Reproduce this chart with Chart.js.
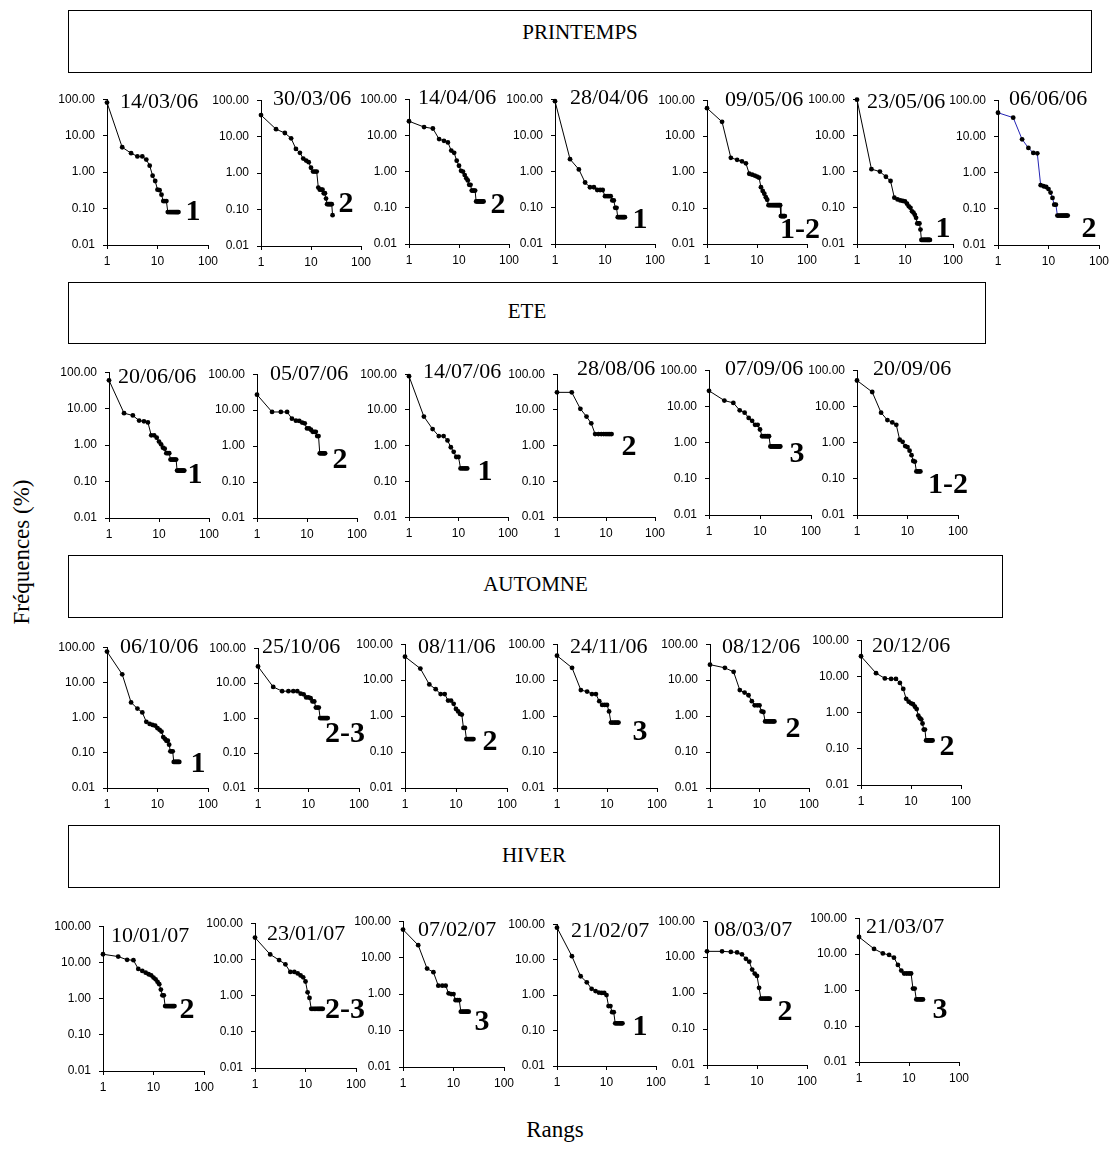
<!DOCTYPE html>
<html>
<head>
<meta charset="utf-8">
<script src="https://cdn.jsdelivr.net/npm/chart.js@4"></script>
<style>
body { margin: 0; background: #fff; }
#page { position: relative; width: 1112px; height: 1151px; font-family: "Liberation Serif", "Times New Roman", serif; color: #000; overflow: hidden; }
.boite { position: absolute; border: 1px solid #000; box-sizing: border-box; }
.saison { position: absolute; font-size: 21px; transform: translate(-50%, -50%); white-space: nowrap; }
.graph { position: absolute; }
.date { position: absolute; font-size: 22px; line-height: 22px; transform: translateY(-50%); white-space: nowrap; }
.classe { position: absolute; font-size: 30px; font-weight: bold; transform: translate(-50%, -50%); white-space: nowrap; }
.titre { position: absolute; font-size: 23px; white-space: nowrap; transform: translate(-50%, -50%); }
</style>
</head>
<body>
<div id="page"></div>
<script>
// fréquences (%) par rang, une liste par prélèvement
const f140306 = [81, 4.8, 3.3, 2.7, 2.7, 2.2, 1.5, 0.8, 0.57, 0.33, 0.32, 0.24, 0.16, 0.16, 0.16, 0.08, 0.08, 0.08, 0.08, 0.08, 0.08, 0.08, 0.08, 0.08, 0.08, 0.08];
const f300306 = [39, 16, 12.6, 9, 4.6, 3.6, 2.5, 2.2, 2.0, 1.4, 1.1, 1.1, 1.1, 0.4, 0.35, 0.35, 0.35, 0.28, 0.28, 0.2, 0.14, 0.14, 0.14, 0.14, 0.14, 0.14, 0.07];
const f140406 = [24.6, 17, 15.5, 7.9, 7.1, 6.4, 3.8, 3.3, 2.0, 1.45, 1.05, 1.0, 0.8, 0.65, 0.57, 0.43, 0.43, 0.3, 0.3, 0.3, 0.3, 0.15, 0.15, 0.15, 0.15, 0.15, 0.15, 0.15, 0.15, 0.15, 0.15];
const f280406 = [88, 2.2, 1.15, 0.5, 0.37, 0.37, 0.31, 0.31, 0.31, 0.21, 0.21, 0.21, 0.21, 0.16, 0.16, 0.1, 0.1, 0.055, 0.055, 0.055, 0.055, 0.055, 0.055, 0.055, 0.055];
const f090506 = [60, 25, 2.5, 2.2, 2.0, 1.75, 0.9, 0.85, 0.8, 0.75, 0.7, 0.38, 0.3, 0.25, 0.2, 0.17, 0.12, 0.12, 0.12, 0.12, 0.12, 0.12, 0.12, 0.12, 0.12, 0.12, 0.12, 0.12, 0.12, 0.06, 0.06, 0.06, 0.06, 0.06, 0.06, 0.06];
const f230506 = [97, 1.17, 1.0, 0.72, 0.55, 0.19, 0.17, 0.16, 0.155, 0.15, 0.13, 0.11, 0.1, 0.08, 0.074, 0.064, 0.053, 0.037, 0.037, 0.037, 0.025, 0.013, 0.013, 0.013, 0.013, 0.013, 0.013, 0.013, 0.013, 0.013, 0.013, 0.013, 0.013];
const f060606 = [45, 33, 8.3, 4.8, 3.5, 3.4, 0.45, 0.42, 0.4, 0.35, 0.28, 0.2, 0.13, 0.13, 0.065, 0.065, 0.065, 0.065, 0.065, 0.065, 0.065, 0.065, 0.065, 0.065];

const f200606 = [60, 7.5, 6.5, 4.7, 4.5, 4.2, 1.85, 1.85, 1.6, 1.25, 1.05, 0.85, 0.8, 0.6, 0.6, 0.6, 0.4, 0.4, 0.4, 0.4, 0.4, 0.4, 0.2, 0.2, 0.2, 0.2, 0.2, 0.2, 0.2, 0.2, 0.2, 0.2];
const f050706 = [27, 8.9, 8.9, 8.9, 5.8, 5.1, 5.0, 4.5, 4.3, 3.1, 3.1, 2.85, 2.5, 2.5, 2.5, 1.9, 1.9, 0.63, 0.63, 0.63, 0.63, 0.63, 0.63];
const f140706 = [88, 6.5, 2.9, 1.85, 1.85, 1.4, 0.9, 0.67, 0.48, 0.48, 0.23, 0.23, 0.23, 0.23, 0.23];
const f280806 = [31, 31, 10.7, 6.5, 4.2, 2.1, 2.1, 2.1, 2.1, 2.1, 2.1, 2.1, 2.1];
const f070906 = [27, 14.5, 12.5, 7.8, 6.7, 4.8, 4.0, 3.1, 3.1, 2.3, 1.5, 1.5, 1.5, 1.5, 1.5, 0.78, 0.78, 0.78, 0.78, 0.78, 0.78, 0.78, 0.78, 0.78, 0.78];
const f200906 = [52, 25, 6.7, 4.2, 3.6, 3.1, 1.2, 1.05, 0.8, 0.75, 0.6, 0.45, 0.31, 0.3, 0.16, 0.16, 0.16, 0.16];

const f061006 = [75, 17, 2.7, 1.8, 1.4, 0.76, 0.66, 0.62, 0.59, 0.5, 0.45, 0.4, 0.28, 0.25, 0.22, 0.22, 0.17, 0.11, 0.11, 0.11, 0.055, 0.055, 0.055, 0.055, 0.055, 0.055, 0.055];
const f251006 = [30, 7.8, 5.9, 5.9, 5.9, 5.9, 5.0, 4.8, 3.9, 3.9, 3.7, 3.0, 3.0, 2.0, 2.0, 2.0, 1.0, 1.0, 1.0, 1.0, 1.0, 1.0, 1.0, 1.0];
const f081106 = [45, 21, 7.6, 5.6, 4.1, 4.1, 2.7, 2.7, 2.2, 1.58, 1.35, 1.15, 1.1, 0.47, 0.47, 0.23, 0.23, 0.23, 0.23, 0.23, 0.23, 0.23];
const f241106 = [48, 22, 5.3, 4.8, 4.1, 4.1, 2.6, 2.05, 2.05, 2.05, 1.35, 0.66, 0.66, 0.66, 0.66, 0.66, 0.66];
const f081206 = [27, 22, 17, 5.3, 4.5, 3.8, 2.6, 2.0, 2.0, 2.0, 1.35, 1.3, 0.71, 0.71, 0.71, 0.71, 0.71, 0.71, 0.71, 0.71];
const f201206 = [36, 12.3, 8.8, 8.5, 8.5, 6.6, 4.5, 2.4, 2.0, 1.8, 1.7, 1.45, 1.25, 0.83, 0.7, 0.65, 0.5, 0.34, 0.34, 0.17, 0.17, 0.17, 0.17, 0.17, 0.17, 0.17, 0.17];

const f100107 = [16.8, 14.5, 11.8, 11.5, 6.6, 5.8, 5.2, 4.7, 4.4, 3.8, 3.4, 2.9, 2.5, 1.78, 1.23, 1.23, 0.62, 0.62, 0.62, 0.62, 0.62, 0.62, 0.62, 0.62, 0.62, 0.62];
const f230107 = [40, 13.7, 9.6, 7.3, 4.5, 4.5, 4.1, 3.6, 3.2, 2.45, 1.23, 0.86, 0.43, 0.43, 0.43, 0.43, 0.43, 0.43, 0.43, 0.43, 0.43, 0.43];
const f070207 = [59, 22, 5.0, 4.0, 1.7, 1.7, 1.7, 1.05, 1.0, 1.0, 0.68, 0.68, 0.68, 0.33, 0.33, 0.33, 0.33, 0.33, 0.33, 0.33];
const f210207 = [80, 12.5, 3.4, 2.3, 1.5, 1.3, 1.18, 1.15, 1.15, 1.0, 0.49, 0.49, 0.33, 0.33, 0.16, 0.16, 0.16, 0.16, 0.16, 0.16, 0.16];
const f080307 = [14.5, 14.5, 14, 13.5, 12, 9, 7.5, 4.5, 3.5, 3, 1.4, 0.7, 0.7, 0.7, 0.7, 0.7, 0.7, 0.7];
const f210307 = [30, 14, 10.5, 9.5, 8, 5, 3.5, 2.9, 2.9, 2.9, 2.9, 1.1, 1.1, 0.55, 0.55, 0.55, 0.55, 0.55, 0.55];

const series = [f140306, f300306, f140406, f280406, f090506, f230506, f060606,
                f200606, f050706, f140706, f280806, f070906, f200906,
                f061006, f251006, f081106, f241106, f081206, f201206,
                f100107, f230107, f070207, f210207, f080307, f210307];

const dates = ['14/03/06', '30/03/06', '14/04/06', '28/04/06', '09/05/06', '23/05/06', '06/06/06',
               '20/06/06', '05/07/06', '14/07/06', '28/08/06', '07/09/06', '20/09/06',
               '06/10/06', '25/10/06', '08/11/06', '24/11/06', '08/12/06', '20/12/06',
               '10/01/07', '23/01/07', '07/02/07', '21/02/07', '08/03/07', '21/03/07'];

const classes = ['1', '2', '2', '1', '1-2', '1', '2',
                 '1', '2', '1', '2', '3', '1-2',
                 '1', '2-3', '2', '3', '2', '2',
                 '2', '2-3', '3', '1', '2', '3'];

const saisons = ['PRINTEMPS', 'ETE', 'AUTOMNE', 'HIVER'];
const ticksX = [1, 10, 100];
const ticksY = [0.01, 0.1, 1, 10, 100];

// mise en page (pixels)
const boitesSaison = [[68, 10, 1024, 63, 32], [68, 282, 918, 62, 311], [68, 555, 935, 63, 584], [68, 825, 932, 63, 855]];
const cadres = [
  [107, 96, 101, 149], [261, 97, 100, 149], [409, 96, 100, 148], [555, 96, 100, 148], [707, 97, 100, 147], [857, 96, 96, 148], [998, 97, 101, 148],
  [109, 369, 100, 149], [257, 371, 100, 147], [409, 371, 99, 146], [557, 371, 98, 146], [709, 367, 102, 148], [857, 367, 101, 148],
  [107, 644, 101, 144], [258, 645, 101, 143], [405, 641, 102, 147], [557, 641, 100, 147], [710, 641, 99, 147], [861, 637, 100, 148],
  [103, 923, 101, 148], [255, 920, 101, 148], [403, 918, 101, 149], [557, 921, 99, 145], [707, 918, 100, 147], [859, 915, 100, 147]
];
const posDates = [
  [120, 101], [273, 98], [418, 97], [570, 97], [725, 99], [867, 101], [1009, 98],
  [118, 376], [270, 373], [423, 371], [577, 368], [725, 368], [873, 368],
  [120, 646], [262, 646], [418, 646], [570, 646], [722, 646], [872, 645],
  [111, 935], [267, 933], [418, 929], [571, 930], [714, 929], [866, 926]
];
const posClasses = [
  [193, 210], [346, 202], [498, 203], [640, 218], [800, 228], [943, 227], [1089, 227],
  [195, 473], [340, 458], [485, 470], [629, 445], [797, 452], [948, 483],
  [198, 762], [345, 732], [490, 740], [640, 730], [793, 727], [947, 745],
  [187, 1008], [345, 1008], [482, 1020], [640, 1025], [785, 1010], [940, 1008]
];

const GAUCHE = 60, DROITE = 24, HAUT = 12, BAS = 26;
const page = document.getElementById('page');

function ajouterTexte(classe, texte, x, y) {
  const d = document.createElement('div');
  d.className = classe;
  d.textContent = texte;
  d.style.left = x + 'px';
  d.style.top = y + 'px';
  page.appendChild(d);
  return d;
}

saisons.forEach((nom, i) => {
  const [x, y, w, h, ty] = boitesSaison[i];
  const b = document.createElement('div');
  b.className = 'boite';
  b.style.left = x + 'px';
  b.style.top = y + 'px';
  b.style.width = w + 'px';
  b.style.height = h + 'px';
  page.appendChild(b);
  ajouterTexte('saison', nom, x + w / 2, ty);
});

const axeY = ajouterTexte('titre', 'Fréquences (%)', 22, 552);
axeY.style.transform = 'translate(-50%, -50%) rotate(-90deg)';
ajouterTexte('titre', 'Rangs', 555, 1130);

function tracer(i) {
  const [x, top, w, h] = cadres[i];
  const div = document.createElement('div');
  div.className = 'graph';
  div.style.left = (x - GAUCHE) + 'px';
  div.style.top = (top - HAUT) + 'px';
  const canvas = document.createElement('canvas');
  canvas.width = GAUCHE + w + DROITE;
  canvas.height = HAUT + h + BAS;
  div.appendChild(canvas);
  page.appendChild(div);

  const police = { family: 'Liberation Sans', size: 12 };
  new Chart(canvas, {
    type: 'line',
    data: {
      datasets: [{
        data: series[i].map((v, k) => ({ x: k + 1, y: v })),
        borderColor: dates[i] === '06/06/06' ? '#2323b4' : '#000',
        borderWidth: 1,
        pointRadius: 2.4,
        pointBackgroundColor: '#000',
        pointBorderWidth: 0,
        tension: 0,
        clip: false
      }]
    },
    options: {
      responsive: false,
      animation: false,
      layout: { padding: { top: HAUT, right: DROITE, left: 0, bottom: 0 } },
      plugins: { legend: { display: false }, tooltip: { enabled: false } },
      scales: {
        x: {
          type: 'logarithmic',
          min: 1,
          max: 100,
          afterBuildTicks: s => { s.ticks = ticksX.map(v => ({ value: v })); },
          afterFit: s => { s.height = BAS; },
          grid: { drawOnChartArea: false, drawTicks: true, tickLength: 4, color: '#000' },
          border: { display: true, color: '#000', width: 1 },
          ticks: { color: '#000', font: police, padding: 5, maxRotation: 0, autoSkip: false, callback: v => String(v) }
        },
        y: {
          type: 'logarithmic',
          min: 0.01,
          max: 100,
          afterBuildTicks: s => { s.ticks = ticksY.map(v => ({ value: v })); },
          afterFit: s => { s.width = GAUCHE; },
          grid: { drawOnChartArea: false, drawTicks: true, tickLength: 4, color: '#000' },
          border: { display: true, color: '#000', width: 1 },
          ticks: { color: '#000', font: police, padding: 8, autoSkip: false, callback: v => Number(v).toFixed(2) }
        }
      }
    }
  });

  ajouterTexte('date', dates[i], posDates[i][0], posDates[i][1]);
  ajouterTexte('classe', classes[i], posClasses[i][0], posClasses[i][1]);
}

series.forEach((s, i) => tracer(i));
</script>
</body>
</html>
